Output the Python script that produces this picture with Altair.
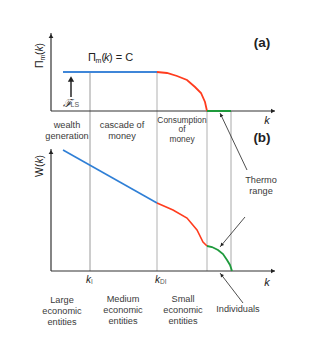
import altair as alt
import pandas as pd

FONT = "Liberation Sans"
TXT = "#3a3a3a"

# ---- curve data (k, value) in diagram units ----
top_blue_k = [12, 106]
top_blue_v = [199, 199]
top_red_k = [106, 116, 126, 136, 144, 150, 154, 156]
top_red_v = [199, 198, 195, 191, 184, 178, 169, 160]
top_green_k = [156, 180]
top_green_v = [160, 160]

bot_blue_k = [12, 106]
bot_blue_v = [121, 68]
bot_red_k = [106, 122, 136, 146, 152, 156]
bot_red_v = [68, 61, 53, 41, 29, 25]
bot_green_k = [156, 161, 167, 172, 176, 179, 181]
bot_green_v = [25, 24, 21, 17, 11, 6, 0]

# ---- guide lines ----
vline_k = [39, 106, 156, 180]
vline_top = [199, 199, 160, 160]
vline_col = ["#9a9a9a", "#cfcfcf", "#cfcfcf", "#a8a8a8"]
vline_w = [1, 1.6, 1.6, 1]

axis_x = [0, 0, 0, 0, 20]
axis_y = [160, 160, 0, 0, 174]
axis_x2 = [0, 224, 0, 224, 20]
axis_y2 = [238, 160, 122, 0, 193]
axis_w = [1.2, 1.2, 1.2, 1.2, 1.6]

arrow_x = [196, 194, 192]
arrow_y = [101, 54, -32]
arrow_x2 = [169, 169, 169]
arrow_y2 = [158, 24, -2]

head_x = [0, 222, 0, 222, 20, 170, 170.6, 170.5]
head_y = [235, 160, 119, 0, 192, 156, 26, -4]
head_angle = [0, 90, 0, 90, 0, 335, 220, 322]
head_size = [22, 22, 22, 22, 40, 14, 14, 14]

# ---- text ----
lab_x = [16, 16, 71, 71, 131, 131, 131, 210, 210,
         11, 11, 11, 72, 72, 72, 132, 132, 132, 187]
lab_y = [146, 135, 146, 135, 151, 142, 132, 91, 80,
         -29, -40, -51, -28, -39, -50, -28, -39, -50, -38]
lab_t = ["wealth", "generation", "cascade of", "money", "Consumption", "of", "money",
         "Thermo", "range", "Large", "economic", "entities", "Medium", "economic",
         "entities", "Small", "economic", "entities", "Individuals"]
lab_s = [9.2, 9.2, 9.2, 9.2, 8.4, 8.4, 8.4, 9.2, 9.2,
         9.2, 9.2, 9.2, 9.2, 9.2, 9.2, 9.2, 9.2, 9.2, 9.2]

X = alt.Scale(domain=[-43, 254], nice=False, zero=False)
Y = alt.Scale(domain=[-77, 263], nice=False, zero=False)


def line(ks, vs, color, w):
    df = pd.DataFrame({"x": ks, "y": vs})
    return alt.Chart(df).mark_line(color=color, strokeWidth=w, strokeCap="butt").encode(
        x=alt.X("x:Q", scale=X, axis=None), y=alt.Y("y:Q", scale=Y, axis=None))


layers = []

vl = pd.DataFrame({"x": vline_k, "y": [0] * 4, "y2": vline_top, "c": vline_col, "w": vline_w})
layers.append(alt.Chart(vl).mark_rule().encode(
    x=alt.X("x:Q", scale=X, axis=None), y=alt.Y("y:Q", scale=Y, axis=None), y2="y2:Q",
    color=alt.Color("c:N", scale=None), strokeWidth=alt.StrokeWidth("w:Q", scale=None)))

ax = pd.DataFrame({"x": axis_x, "y": axis_y, "x2": axis_x2, "y2": axis_y2, "w": axis_w})
layers.append(alt.Chart(ax).mark_rule(color="#333").encode(
    x=alt.X("x:Q", scale=X, axis=None), y=alt.Y("y:Q", scale=Y, axis=None),
    x2="x2:Q", y2="y2:Q", strokeWidth=alt.StrokeWidth("w:Q", scale=None)))

ar = pd.DataFrame({"x": arrow_x, "y": arrow_y, "x2": arrow_x2, "y2": arrow_y2})
layers.append(alt.Chart(ar).mark_rule(color="#222", strokeWidth=0.8).encode(
    x=alt.X("x:Q", scale=X, axis=None), y=alt.Y("y:Q", scale=Y, axis=None),
    x2="x2:Q", y2="y2:Q"))

hd = pd.DataFrame({"x": head_x, "y": head_y, "a": head_angle, "s": head_size})
layers.append(alt.Chart(hd).mark_point(shape="triangle-up", filled=True, color="#222", opacity=1).encode(
    x=alt.X("x:Q", scale=X, axis=None), y=alt.Y("y:Q", scale=Y, axis=None),
    angle=alt.Angle("a:Q", scale=None), size=alt.Size("s:Q", scale=None)))

layers += [
    line(top_blue_k, top_blue_v, "#3f86d8", 2.2),
    line(top_red_k, top_red_v, "#ff3c1e", 1.8),
    line(top_green_k, top_green_v, "#1e9a3c", 2),
    line(bot_blue_k, bot_blue_v, "#2f7fd6", 1.6),
    line(bot_red_k, bot_red_v, "#ff3c1e", 1.6),
    line(bot_green_k, bot_green_v, "#1e9a3c", 1.8),
]

lb = pd.DataFrame({"x": lab_x, "y": lab_y, "t": lab_t, "s": lab_s})
layers.append(alt.Chart(lb).mark_text(font=FONT, color=TXT, baseline="middle", align="center").encode(
    x=alt.X("x:Q", scale=X, axis=None), y=alt.Y("y:Q", scale=Y, axis=None),
    text="t:N", size=alt.Size("s:Q", scale=None)))


def txt(x, y, t, size, style="normal", weight="normal", align="left", baseline="alphabetic",
        angle=0, font=FONT, color="#222"):
    df = pd.DataFrame({"x": [x], "y": [y], "t": [t]})
    return alt.Chart(df).mark_text(font=font, fontSize=size, fontStyle=style, fontWeight=weight,
                                   align=align, baseline=baseline, angle=angle, color=color).encode(
        x=alt.X("x:Q", scale=X, axis=None), y=alt.Y("y:Q", scale=Y, axis=None), text="t:N")


layers += [
    txt(211, 228, "(a)", 13.5, weight="bold", align="center", baseline="middle"),
    txt(211, 133, "(b)", 13.5, weight="bold", align="center", baseline="middle"),
    # Pi_m(k) = C
    txt(37, 210, "Π", 11),
    txt(44.5, 208.5, "m", 7),
    txt(50.5, 210, "(", 11),
    txt(53, 210, "k", 11, style="italic"),
    txt(58, 210, ") = C", 11),
    # axis end labels
    txt(216, 147, "k", 11, style="italic", align="center"),
    txt(216, -15, "k", 11, style="italic", align="center"),
    # k_I, k_DI
    txt(35, -12, "k", 10, style="italic"),
    txt(40, -13, "I", 6.5, color="#555"),
    txt(104, -12, "k", 10, style="italic"),
    txt(109, -13, "DI", 6.5, color="#555"),
    # F_LS
    txt(12, 164, "ℱ", 11, style="italic", font="DejaVu Serif"),
    txt(19.5, 164, "LS", 7, color="#555"),
    # rotated y labels
    txt(-8, 203, "Π", 10.5, angle=270),
    txt(-6.5, 210.5, "m", 7, angle=270),
    txt(-8, 216, "(", 10.5, angle=270),
    txt(-8, 219.5, "k", 10.5, style="italic", angle=270),
    txt(-8, 224.5, ")", 10.5, angle=270),
    txt(-8, 94, "W(", 10.5, angle=270),
    txt(-8, 107.5, "k", 10.5, style="italic", angle=270),
    txt(-8, 112.5, ")", 10.5, angle=270),
]

chart = alt.layer(*layers).properties(width=297, height=340).configure_view(stroke=None).properties(
    padding=0, autosize=alt.AutoSizeParams(type="none"))

chart.save("out.html", embed_options={"renderer": "svg", "actions": False})
